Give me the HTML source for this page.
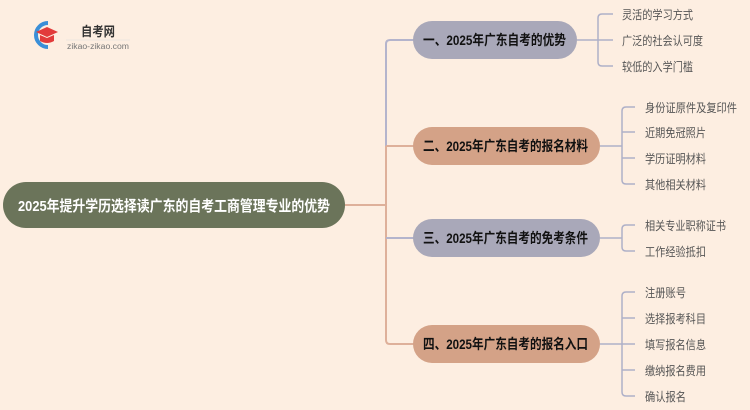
<!DOCTYPE html>
<html><head><meta charset="utf-8"><style>
html,body{margin:0;padding:0;background:#fdeee1;}
svg{display:block}
text{font-family:"Liberation Sans","Noto Sans CJK SC",sans-serif;}
.b{font-weight:bold;font-size:14px;fill:#111;}
.l{font-size:12px;fill:#555;}
</style></head><body>
<svg width="750" height="410" viewBox="0 0 750 410" xmlns="http://www.w3.org/2000/svg">
<rect width="750" height="410" fill="#fdeee1"/>
<path d="M48 23 A12 12 0 1 0 48 47" fill="none" stroke="#3a8fd8" stroke-width="4"/>
<path d="M36 32 L47 27 L58 32 L47 37 Z" fill="#e23b3b"/>
<path d="M40 35 L40 41 Q47 45 54 41 L54 35 L47 38 Z" fill="#e23b3b"/>
<text x="81" y="36" style="font-size:13px;font-weight:bold;fill:#333" textLength="34" lengthAdjust="spacingAndGlyphs">自考网</text>
<line x1="66" y1="40" x2="130" y2="40" stroke="#ddd" stroke-width="0.6"/>
<text x="67" y="49" style="font-size:8px;fill:#777" textLength="62" lengthAdjust="spacingAndGlyphs">zikao-zikao.com</text>
<g fill="none" stroke-width="2">
<path d="M386 146 L386 44 Q386 40 390 40 L414 40" stroke="#b4b4cc"/>
<path d="M345 205 L386 205" stroke="#deb09a"/>
<path d="M386 146 L386 340 Q386 344 390 344 L414 344" stroke="#deb09a"/>
<path d="M386 146 L414 146" stroke="#deb09a"/>
<path d="M386 238 L414 238" stroke="#b4b4cc"/>
</g>
<g fill="none" stroke="#aeb0c8" stroke-width="1.5">
<path d="M577 40 L598 40"/>
<path d="M613 14 L602 14 Q598 14 598 18 L598 62 Q598 66 602 66 L613 66"/>
<path d="M598 40 L613 40"/>
<path d="M600 146 L622 146"/>
<path d="M635 107 L626 107 Q622 107 622 111 L622 180 Q622 184 626 184 L635 184"/>
<path d="M622 132 L635 132 M622 158 L635 158"/>
<path d="M600 238 L622 238"/>
<path d="M635 225 L626 225 Q622 225 622 229 L622 247 Q622 251 626 251 L635 251"/>
<path d="M600 344 L622 344"/>
<path d="M635 292 L626 292 Q622 292 622 296 L622 392 Q622 396 626 396 L635 396"/>
<path d="M622 318 L635 318 M622 344 L635 344 M622 370 L635 370"/>
</g>
<rect x="3" y="182" width="342" height="46" rx="23" fill="#6b745a"/>
<text x="18" y="211" style="font-size:15px;font-weight:bold;fill:#fff" textLength="312" lengthAdjust="spacingAndGlyphs">2025年提升学历选择读广东的自考工商管理专业的优势</text>
<rect x="413" y="21" width="164" height="38" rx="19" fill="#a9a8b9"/>
<text x="423" y="45" class="b" textLength="143" lengthAdjust="spacingAndGlyphs">一、2025年广东自考的优势</text>
<rect x="413" y="127" width="187" height="38" rx="19" fill="#d4a287"/>
<text x="423" y="151" class="b" textLength="165" lengthAdjust="spacingAndGlyphs">二、2025年广东自考的报名材料</text>
<rect x="413" y="219" width="187" height="38" rx="19" fill="#a9a8b9"/>
<text x="423" y="243" class="b" textLength="165" lengthAdjust="spacingAndGlyphs">三、2025年广东自考的免考条件</text>
<rect x="413" y="325" width="187" height="38" rx="19" fill="#d4a287"/>
<text x="423" y="349" class="b" textLength="165" lengthAdjust="spacingAndGlyphs">四、2025年广东自考的报名入口</text>
<text class="l" x="622" y="19" textLength="71" lengthAdjust="spacingAndGlyphs">灵活的学习方式</text>
<text class="l" x="622" y="45" textLength="81" lengthAdjust="spacingAndGlyphs">广泛的社会认可度</text>
<text class="l" x="622" y="71" textLength="71" lengthAdjust="spacingAndGlyphs">较低的入学门槛</text>
<text class="l" x="645" y="112" textLength="92" lengthAdjust="spacingAndGlyphs">身份证原件及复印件</text>
<text class="l" x="645" y="137" textLength="61" lengthAdjust="spacingAndGlyphs">近期免冠照片</text>
<text class="l" x="645" y="163" textLength="61" lengthAdjust="spacingAndGlyphs">学历证明材料</text>
<text class="l" x="645" y="189" textLength="61" lengthAdjust="spacingAndGlyphs">其他相关材料</text>
<text class="l" x="645" y="230" textLength="81" lengthAdjust="spacingAndGlyphs">相关专业职称证书</text>
<text class="l" x="645" y="256" textLength="61" lengthAdjust="spacingAndGlyphs">工作经验抵扣</text>
<text class="l" x="645" y="297" textLength="41" lengthAdjust="spacingAndGlyphs">注册账号</text>
<text class="l" x="645" y="323" textLength="61" lengthAdjust="spacingAndGlyphs">选择报考科目</text>
<text class="l" x="645" y="349" textLength="61" lengthAdjust="spacingAndGlyphs">填写报名信息</text>
<text class="l" x="645" y="375" textLength="61" lengthAdjust="spacingAndGlyphs">缴纳报名费用</text>
<text class="l" x="645" y="401" textLength="41" lengthAdjust="spacingAndGlyphs">确认报名</text>
</svg>
</body></html>
